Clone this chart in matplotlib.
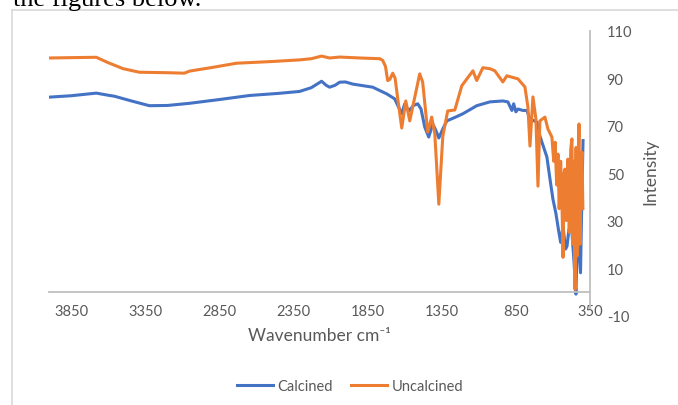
import matplotlib.pyplot as plt
from matplotlib.lines import Line2D

# valores (numero de onda em cm-1, intensidade)
wn_calcinado = [4000, 3850, 3681, 3600, 3559, 3450, 3323, 3200, 3053, 2850,
                2647, 2450, 2310, 2230, 2161, 2130, 2107, 2070, 2039, 2000,
                1950, 1816, 1722, 1668, 1620, 1600, 1573, 1540, 1512, 1490,
                1465, 1438, 1411, 1390, 1370, 1340, 1316, 1260, 1208, 1114,
                1026, 938, 904, 877, 865, 850, 836, 803, 776, 755,
                708, 688, 641, 620, 600, 580, 560, 548, 532, 515,
                505, 492, 472, 458, 445, 432, 424, 414, 404, 397]
int_calcinado = [82.0, 82.6, 83.7, 82.8, 82.4, 80.5, 78.4, 78.5, 79.4, 81.0,
                 82.7, 83.6, 84.4, 86.0, 88.7, 87.0, 86.2, 87.0, 88.3, 88.4,
                 87.5, 86.2, 83.4, 81.3, 75.0, 79.2, 76.2, 78.5, 79.2, 77.0,
                 69.4, 65.2, 70.7, 68.0, 64.8, 69.0, 72.0, 73.5, 75.0, 78.4,
                 80.0, 80.4, 80.0, 76.4, 79.2, 75.8, 77.0, 76.4, 76.4, 72.8,
                 71.5, 65.6, 56.8, 47.5, 39.0, 33.0, 25.1, 20.8, 27.6, 18.0,
                 19.2, 26.3, 25.0, 12.8, -1.0, 31.8, 18.0, 8.0, 43.0, 63.7]

wn_nao_calcinado = [4000, 3800, 3681, 3600, 3500, 3390, 3200, 3087, 3050, 2900,
                    2735, 2500, 2310, 2230, 2161, 2107, 2039, 1900, 1769, 1749,
                    1730, 1715, 1700, 1681, 1665, 1647, 1620, 1593, 1566, 1499,
                    1479, 1445, 1418, 1397, 1370, 1343, 1310, 1262, 1215, 1140,
                    1114, 1073, 1026, 992, 938, 911, 836, 789, 769, 755,
                    735, 715, 701, 688, 654, 634, 607, 595, 585, 575,
                    566, 558, 548, 540, 532, 525, 519, 510, 499, 490,
                    480, 472, 465, 458, 451, 444, 438, 430, 424, 417,
                    411, 404, 398]
int_nao_calcinado = [98.5, 98.7, 98.8, 96.5, 94.0, 92.5, 92.3, 92.1, 93.0, 94.5,
                     96.3, 97.0, 97.7, 98.2, 99.3, 98.5, 98.9, 98.5, 98.2, 97.5,
                     95.0, 89.0, 89.5, 92.1, 90.0, 81.3, 69.0, 80.4, 72.0, 91.8,
                     88.4, 67.3, 73.6, 66.5, 36.9, 65.6, 76.2, 76.6, 86.8, 93.1,
                     89.0, 94.4, 94.0, 93.1, 88.4, 91.0, 89.7, 86.3, 77.9, 61.4,
                     82.1, 72.8, 44.5, 72.0, 73.6, 68.6, 65.2, 55.0, 63.0, 45.0,
                     58.0, 35.0, 55.0, 40.0, 14.5, 50.0, 51.7, 30.0, 55.9, 25.0,
                     60.0, 64.4, 20.0, 55.0, 1.0, 60.8, 15.0, 55.0, 70.7, 20.0,
                     50.0, 58.8, 35.0]

ticks_x = [3850, 3350, 2850, 2350, 1850, 1350, 850, 350]
ticks_y = [-10, 10, 30, 50, 70, 90, 110]

azul = '#4472C4'
laranja = '#ED7D31'
cinza_texto = '#595959'
cinza_eixo = '#BFBFBF'
fonte = ['Lato', 'DejaVu Sans']

plt.rcParams['axes.unicode_minus'] = False  # o Excel usa hifen no -10

W, H = 678, 406
fig = plt.figure(figsize=(W / 100, H / 100), dpi=100)

# posicao da area do grafico em pixels
x0, x1, ytop, ybot = 49, 590, 31.7, 316.5
ax = fig.add_axes([x0 / W, 1 - ybot / H, (x1 - x0) / W, (ybot - ytop) / H])

ax.plot(wn_calcinado, int_calcinado, color=azul, lw=2.2, solid_joinstyle='round')
ax.plot(wn_nao_calcinado, int_nao_calcinado, color=laranja, lw=2.2, solid_joinstyle='round')

ax.set_xlim(4000, 350)
ax.set_ylim(-10, 110)
ax.set_xticks(ticks_x)
ax.set_yticks(ticks_y)

for lado in ['top', 'left']:
    ax.spines[lado].set_visible(False)
ax.spines['bottom'].set_position(('data', 0))
ax.spines['bottom'].set_color(cinza_eixo)
ax.spines['bottom'].set_linewidth(1.3)
ax.spines['right'].set_color(cinza_eixo)
ax.spines['right'].set_linewidth(1.3)
ax.spines['right'].set_bounds(-7, 110)

ax.yaxis.tick_right()
ax.tick_params(axis='x', length=0, pad=9, labelsize=10.5, labelcolor=cinza_texto)
ax.tick_params(axis='y', length=0, pad=12, labelsize=10.5, labelcolor=cinza_texto)
for lbl in ax.get_xticklabels() + ax.get_yticklabels():
    lbl.set_family(fonte)

fig.text(319.5 / W, 1 - 336 / H, 'Wavenumber cm\u207b\u00b9', ha='center', va='center',
         fontsize=12.5, color=cinza_texto, family=fonte)
fig.text(650 / W, 1 - 172 / H, 'Intensity', ha='center', va='center', rotation=90,
         fontsize=12.5, color=cinza_texto, family=fonte)

handles = [Line2D([], [], color=azul, lw=2.2), Line2D([], [], color=laranja, lw=2.2)]
fig.legend(handles, ['Calcined', 'Uncalcined'], loc='center', bbox_to_anchor=(350 / W, 1 - 387 / H),
           ncol=2, frameon=False, handlelength=2.5, handletextpad=0.3, columnspacing=1.2,
           prop={'family': fonte, 'size': 10.5}, labelcolor=cinza_texto)

# moldura do grafico (so aparecem a borda de cima e a da esquerda)
fig.add_artist(Line2D([12 / W, 12 / W], [0, 1 - 11 / H], color='#D9D9D9', lw=1.2))
fig.add_artist(Line2D([12 / W, 1], [1 - 11 / H, 1 - 11 / H], color='#D9D9D9', lw=1.2))

# texto do documento cortado no topo
fig.text(13 / W, 1 - 6 / H, 'the figures below.', ha='left', va='baseline',
         fontsize=19, family='Liberation Serif', color='black')

fig.savefig('out.png', dpi=100)
